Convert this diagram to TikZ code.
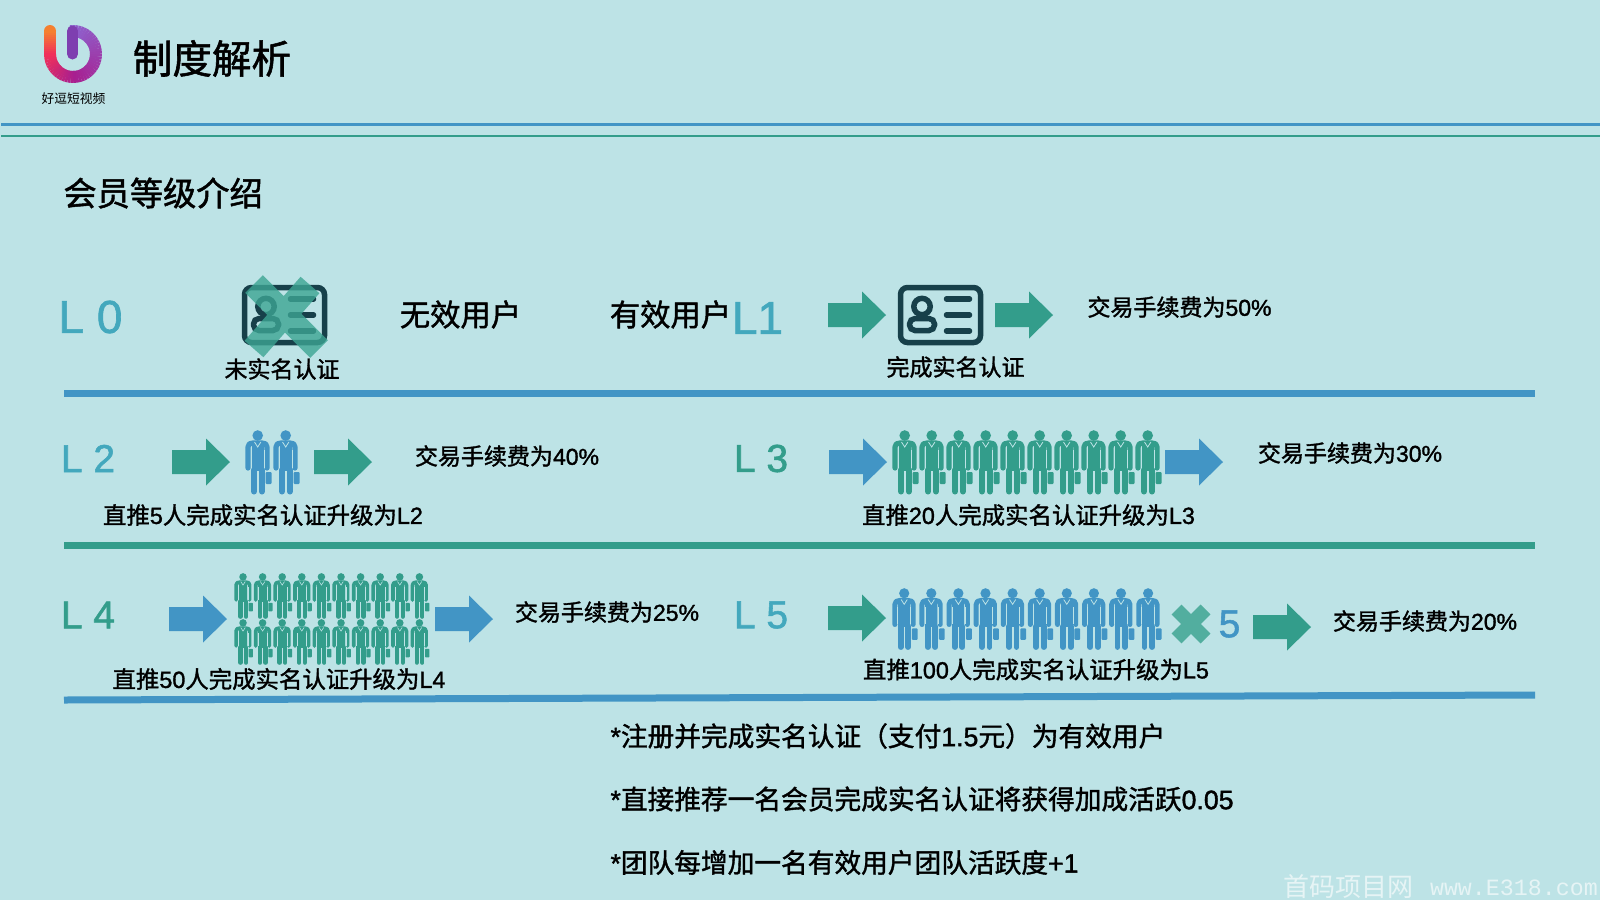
\documentclass[tikz,border=0pt]{standalone}
\usepackage{fontspec}
\setmainfont{Noto Sans CJK SC}[BoldFont={Noto Sans CJK SC},BoldFeatures={FakeBold=1.4}]
\newfontfamily\lat{Liberation Sans}[BoldFont={Liberation Sans},BoldFeatures={FakeBold=1.4}]
\newfontfamily\wmmono{Liberation Mono}
\definecolor{bgc}{HTML}{BDE3E6}
\definecolor{tealc}{HTML}{339D8B}
\definecolor{bluec}{HTML}{4295C5}
\definecolor{lblc}{HTML}{43A8BD}
\definecolor{cardc}{HTML}{17404A}
\definecolor{crossc}{HTML}{52AE9F}
\definecolor{crossd}{HTML}{3DA593}
\definecolor{wmc}{HTML}{E6F4F5}
\definecolor{inbarc}{HTML}{7E3FB0}
\definecolor{lilac}{HTML}{8D63CF}
\definecolor{redc}{HTML}{F0305A}
\definecolor{magc}{HTML}{A81F90}
\definecolor{orc}{HTML}{F58030}
\tikzset{
  txt/.style={inner sep=0pt,outer sep=0pt,text=black,anchor=center,font=\bfseries},
  rule/.style={line width=7pt},
}
\newcommand{\fs}[1]{\fontsize{#1}{#1}\selectfont}
\newcommand{\myarrow}[3]{\fill[#3,shift={(#1,#2)}] (0,-12)--(34,-12)--(34,-23.5)--(58,0)--(34,23.5)--(34,12)--(0,12)--cycle;}
\newcommand{\person}[4]{%
\begin{scope}[shift={(#1,#2)},scale=#3]
 \fill[#4] (12.7,5.5) circle (5.3);
 \fill[#4] (6.5,12) rectangle (19,41);
 \draw[#4,line width=#3*5.2pt,line cap=round,line join=round] (3,38)--(3,17)..controls (3,14) and (5,13) .. (8,13)--(17,13)..controls (20,13) and (22,14) .. (22,17)--(22,38);
 \draw[#4,line width=#3*6pt,line cap=round] (9,40)--(9,61.5) (16.8,40)--(16.8,61.5);
 \draw[bgc,line width=#3*0.7pt] (6,20)--(6,38) (19.6,20)--(19.6,38);
 \draw[bgc,line width=#3*0.8pt] (9.5,12)--(12.7,17)--(15.9,12);
 \fill[#4,rounded corners=#3*1pt] (20.7,42) rectangle (26.7,54);
\end{scope}}
\newcommand{\card}[2]{%
\begin{scope}[shift={(#1,#2)}]
 \draw[cardc,line width=5.5pt,rounded corners=7pt] (2.5,2.5) rectangle (82.5,57.5);
 \draw[cardc,line width=5.5pt] (24,21.5) circle (8.2);
 \draw[cardc,line width=5.5pt,rounded corners=5.5pt] (11.5,33.5) rectangle (36.5,45.5);
 \draw[cardc,line width=5.5pt,line cap=round] (48.5,14)--(71.5,14) (48.5,30)--(71.5,30) (48.5,46)--(71.5,46);
\end{scope}}
\begin{document}
\begin{tikzpicture}[x=1pt,y=-1pt]
\useasboundingbox (0,0) rectangle (1600,900);
\fill[bgc] (0,0) rectangle (1600,900);
% logo
\foreach \i in {0,...,30}{
  \pgfmathsetmacro\a{90-\i*6}
  \pgfmathsetmacro\b{\a-7}
  \pgfmathsetmacro\m{100-\i*100/30}
  \colorlet{segc}{magc!\m!lilac}
  \draw[segc,line width=12pt] ({73+23*cos(\a)},{54+23*sin(\a)})--({73+23*cos(\b)},{54+23*sin(\b)});
}
\draw[inbarc,line width=11pt,line cap=round] (72.5,54)--(72.5,31);
\foreach \i in {0,...,15}{
  \pgfmathsetmacro\a{180-\i*6}
  \pgfmathsetmacro\b{\a-7}
  \pgfmathsetmacro\m{100-\i*100/15}
  \colorlet{segc}{redc!\m!magc}
  \draw[segc,line width=12pt] ({73+23*cos(\a)},{54+23*sin(\a)})--({73+23*cos(\b)},{54+23*sin(\b)});
}
\foreach \i in {0,...,11}{
  \pgfmathsetmacro\ya{31+\i*2}
  \pgfmathsetmacro\yb{\ya+2.5}
  \pgfmathsetmacro\m{100-\i*100/11}
  \colorlet{segc}{orc!\m!redc}
  \ifnum\i=0 \fill[segc] (50,31) circle (6);\fi
  \draw[segc,line width=12pt] (50,\ya)--(50,\yb);
}
\node[txt,font=\mdseries] (logotext) at (73.5,99) {\fs{12.8}好逗短视频};
\node[txt] (title) at (212,58.5) {\fs{39.5}制度解析};
% header rules
\coordinate (h1a) at (1,124.5);\coordinate (h1b) at (1600,124.5);
\coordinate (h2a) at (1,135.5);\coordinate (h2b) at (1600,135.5);
\draw[bluec,line width=3.5pt] (h1a)--(h1b);
\draw[tealc,line width=2pt] (h2a)--(h2b);
\node[txt,anchor=west] (sub) at (63.5,193) {\fs{33.2}会员等级介绍};
% row L0 / L1
\node[txt,text=lblc] (l0) at (90.5,317) {\fs{46}\lat L 0};
\card{242}{285}
\draw[crossd,opacity=.8,line width=25pt] (254,284)--(319,349) (310,285)--(254,349);
\node[txt] (t0) at (282,369) {\fs{23}未实名认证};
\node[txt] (inv) at (460.5,314.5) {\fs{30.3}无效用户};
\node[txt] (val) at (670.5,314.5) {\fs{30.3}有效用户};
\node[txt,text=lblc] (l1) at (757.5,318) {\fs{46}\lat L1};
\myarrow{828}{315}{tealc}
\card{898}{285}
\myarrow{995}{315}{tealc}
\node[txt] (t1) at (955.5,367) {\fs{23}完成实名认证};
\node[txt] (f1) at (1179.5,307) {\fs{23}交易手续费为{\lat 50\%}};
\draw[bluec,rule] (64,393)--(1535,393);
% row L2 / L3
\node[txt,text=lblc] (l2) at (88,458.5) {\fs{39}\lat L 2};
\myarrow{172}{462}{tealc}
\person{245}{430}{1}{bluec}
\person{273}{430}{1}{bluec}
\myarrow{314}{462}{tealc}
\node[txt] (f2) at (507,456) {\fs{23}交易手续费为{\lat 40\%}};
\node[txt] (t2) at (263,515) {\fs{23.4}直推{\lat 5}人完成实名认证升级为{\lat L2}};
\node[txt,text=tealc] (l3) at (761,458.5) {\fs{39}\lat L 3};
\myarrow{829}{462}{bluec}
\foreach \k in {0,...,9}{\person{892+\k*27}{430}{1}{tealc}}
\myarrow{1165}{462}{bluec}
\node[txt] (f3) at (1350,453) {\fs{23}交易手续费为{\lat 30\%}};
\node[txt] (t3) at (1028.5,515) {\fs{23.4}直推{\lat 20}人完成实名认证升级为{\lat L3}};
\draw[tealc,rule] (64,545)--(1535,545);
% row L4 / L5
\node[txt,text=tealc] (l4) at (88,615) {\fs{39}\lat L 4};
\myarrow{169}{619}{bluec}
\foreach \k in {0,...,9}{\person{234+\k*19.6}{573}{.71}{tealc}\person{234+\k*19.6}{619}{.71}{tealc}}
\myarrow{435}{619}{bluec}
\node[txt] (f4) at (607,612) {\fs{23}交易手续费为{\lat 25\%}};
\node[txt] (t4) at (279,679) {\fs{23.4}直推{\lat 50}人完成实名认证升级为{\lat L4}};
\node[txt,text=lblc] (l5) at (761,615) {\fs{39}\lat L 5};
\myarrow{828}{618}{tealc}
\foreach \k in {0,...,9}{\person{892+\k*27.1}{588}{.96}{bluec}}
\draw[crossc,line width=14pt] (1176.5,609.5)--(1205.5,638.5) (1205.5,609.5)--(1176.5,638.5);
\node[txt,text=bluec] (five) at (1229.5,624) {\fs{39}\lat 5};
\myarrow{1253}{627}{tealc}
\node[txt] (f5) at (1425,621) {\fs{23}交易手续费为{\lat 20\%}};
\node[txt] (t5) at (1036,669.5) {\fs{23.4}直推{\lat 100}人完成实名认证升级为{\lat L5}};
\draw[bluec,rule] (64,700)--(1535,695);
% notes
\node[txt,anchor=west] (n1) at (610.5,736) {\fs{26.7}{\lat *}注册并完成实名认证（支付{\lat 1.5}元）为有效用户};
\node[txt,anchor=west] (n2) at (610.5,799) {\fs{26.7}{\lat *}直接推荐一名会员完成实名认证将获得加成活跃{\lat 0.05}};
\node[txt,anchor=west] (n3) at (610.5,862.5) {\fs{26.7}{\lat *}团队每增加一名有效用户团队活跃度{\lat +1}};
% watermark
\node[txt,font=\mdseries,anchor=west,text=wmc] (wm1) at (1283,887) {\fs{26}首码项目网};
\node[txt,font=\mdseries,anchor=west,text=wmc] (wm2) at (1430,888) {\fs{23.3}\wmmono www.E318.com};
\end{tikzpicture}
\end{document}
